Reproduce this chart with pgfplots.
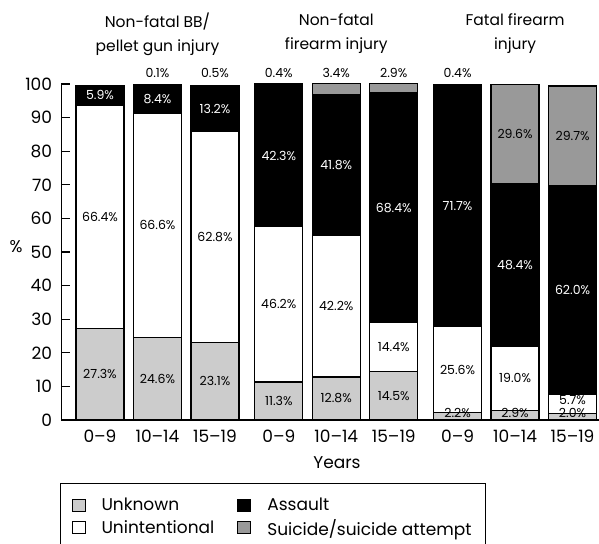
\documentclass[border=0pt]{standalone}
\usepackage{fontspec}
\setmainfont{Poppins}
\usepackage{pgfplots}
\pgfplotsset{compat=1.18}
\definecolor{unk}{HTML}{CCCCCC}
\definecolor{sui}{HTML}{999999}
\newcommand\mainf{\fontsize{15.5bp}{24bp}\selectfont}
\newcommand\legf{\fontsize{17bp}{20bp}\selectfont}
\newcommand\tickf{\fontsize{17bp}{20bp}\selectfont}
\newcommand\vl{\fontsize{12.5bp}{13bp}\selectfont}
\begin{document}
\begin{tikzpicture}
\path[use as bounding box] (-61.3bp,-124bp) rectangle (537.7bp,420bp);
\begin{axis}[
  at={(0,0)}, anchor=south west,
  scale only axis, width=537.7bp, height=336bp,
  xmin=-0.673, xmax=8.68, ymin=0, ymax=100,
  ybar stacked, bar width=0.835,
  axis x line*=bottom, axis y line*=left,
  axis line style={-, line width=1.2bp},
  ytick={0,10,...,100},
  tick align=inside, major tick length=9bp,
  ytick style={line width=1.2bp, black},
  xtick={0,1,2,3.11,4.11,5.11,6.22,7.22,8.22},
  xticklabels={0–9,10–14,15–19,0–9,10–14,15–19,0–9,10–14,15–19},
  xtick style={draw=none},
  /pgf/number format/assume math mode=true,
  tick label style={font=\tickf},
  yticklabel style={anchor=east, inner sep=0pt, xshift=-9bp},
  xticklabel style={anchor=base, yshift=-22.5bp},
  xlabel={Years},
  xlabel style={font=\legf, at={(axis description cs:0.5127,0)}, anchor=base, yshift=-48.5bp},
  ylabel={\%},
  ylabel style={font=\tickf, rotate=-90, at={(axis description cs:-0.0843,0.515)}, anchor=center},
  clip=false,
  legend columns=2, transpose legend,
  legend cell align=left,
  area legend,
  legend image code/.code={\draw[#1,/tikz/.cd,line width=1bp] (0bp,-6bp) rectangle (13bp,6bp);},
  legend style={at={(axis description cs:-0.0024,-0.1875)}, anchor=north west,
    draw=black, line width=1bp, font=\legf, inner xsep=11bp, inner ysep=12.5bp,
    row sep=3bp,
    /tikz/every odd column/.append style={column sep=14bp},
    /tikz/every even column/.append style={column sep=21bp}},
  every axis plot/.append style={draw=black, line width=1.2bp},
]
% x positions: 0-9,10-14,15-19 for each injury group
\addplot[fill=unk] coordinates {(0,27.3) (1,24.6) (2,23.1) (3.11,11.3) (4.11,12.8) (5.11,14.5) (6.22,2.2) (7.22,2.9) (8.22,2.0)};
\addlegendentry{Unknown}
\addplot[fill=white] coordinates {(0,66.4) (1,66.6) (2,62.8) (3.11,46.2) (4.11,42.2) (5.11,14.4) (6.22,25.6) (7.22,19.0) (8.22,5.7)};
\addlegendentry{Unintentional}
\addplot[fill=black] coordinates {(0,5.9) (1,8.4) (2,13.2) (3.11,42.3) (4.11,41.8) (5.11,68.4) (6.22,71.7) (7.22,48.4) (8.22,62.0)};
\addlegendentry{Assault}
\addplot[fill=sui] coordinates {(0,0.0) (1,0.1) (2,0.5) (3.11,0.4) (4.11,3.4) (5.11,2.9) (6.22,0.4) (7.22,29.6) (8.22,29.7)};
\addlegendentry{\makebox[205bp][l]{Suicide/suicide attempt}}
\node[align=center, font=\mainf] at (axis cs:1,114.9) {Non-fatal BB/\\pellet gun injury};
\node[align=center, font=\mainf] at (axis cs:4.11,114.9) {Non-fatal\\firearm injury};
\node[align=center, font=\mainf] at (axis cs:7.22,114.9) {Fatal firearm\\injury};
\end{axis}
\begin{axis}[
  at={(0,0)}, anchor=south west,
  scale only axis, width=537.7bp, height=336bp,
  xmin=-0.673, xmax=8.68, ymin=0, ymax=100,
  hide axis, clip=false,
  nodes near coords, point meta=explicit symbolic,
  nodes near coords align={center},
  every node near coord/.append style={font=\vl, inner sep=0pt, anchor=center},
]
% labels on dark segments (white text)
\addplot[draw=none, mark=none, every node near coord/.append style={text=white}] coordinates {
(0,96.65) [5.9\%] (1,95.4) [8.4\%] (2,92.5) [13.2\%]
(3.11,78.65) [42.3\%] (4.11,75.9) [41.8\%] (5.11,63.1) [68.4\%]
(6.22,63.65) [71.7\%] (7.22,46.1) [48.4\%] (8.22,38.7) [62.0\%]};
% labels on light segments and above bars (black text)
\addplot[draw=none, mark=none, every node near coord/.append style={text=black}] coordinates {
(0,13.65) [27.3\%] (1,12.3) [24.6\%] (2,11.55) [23.1\%]
(3.11,5.65) [11.3\%] (4.11,6.4) [12.8\%] (5.11,7.25) [14.5\%]
(6.22,2.1) [2.2\%] (7.22,2.2) [2.9\%] (8.22,2.2) [2.0\%]
(0,60.5) [66.4\%] (1,57.9) [66.6\%] (2,54.5) [62.8\%]
(3.11,34.4) [46.2\%] (4.11,33.9) [42.2\%] (5.11,21.7) [14.4\%]
(6.22,15.0) [25.6\%] (7.22,12.4) [19.0\%] (8.22,5.95) [5.7\%]
(7.22,85.1) [29.6\%] (8.22,84.55) [29.7\%]
(1,103.3) [0.1\%] (2,103.3) [0.5\%] (3.11,103.3) [0.4\%]
(4.11,103.3) [3.4\%] (5.11,103.3) [2.9\%] (6.22,103.3) [0.4\%]};
\end{axis}
\end{tikzpicture}
\end{document}
